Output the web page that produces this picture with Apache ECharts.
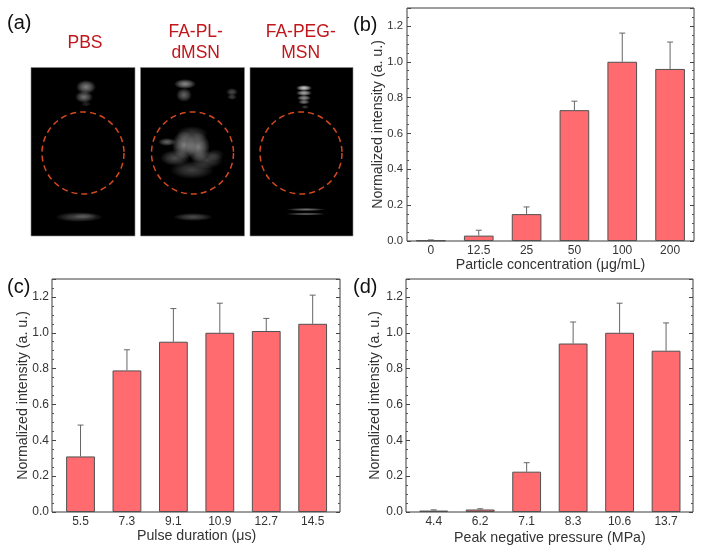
<!DOCTYPE html>
<html><head><meta charset="utf-8">
<style>html,body{margin:0;padding:0;background:#fff}#c{width:704px;height:553px}</style>
<script src="https://cdn.jsdelivr.net/npm/echarts@6/dist/echarts.min.js"></script>
</head><body><div id="c"></div>
<script>
const catsB=['0','12.5','25','50','100','200'];
const valsB=[0.003,0.03,0.15,0.73,1.0,0.96];
const topsB=[0.006,0.06,0.19,0.78,1.16,1.11];
const catsC=['5.5','7.3','9.1','10.9','12.7','14.5'];
const valsC=[0.31,0.79,0.95,1.0,1.01,1.05];
const topsC=[0.485,0.905,1.135,1.165,1.08,1.21];
const catsD=['4.4','6.2','7.1','8.3','10.6','13.7'];
const valsD=[0.008,0.014,0.225,0.94,1.0,0.9];
const topsD=[0.012,0.018,0.275,1.06,1.165,1.055];
const xNames=['Particle concentration (\u03bcg/mL)','Pulse duration (\u03bcs)','Peak negative pressure (MPa)'];
const yName='Normalized intensity (a. u.)';
const FONT='"Liberation Sans",Arial,sans-serif';
const panels=[
 {cats:catsB,vals:valsB,tops:topsB,xn:xNames[0],o:[407,8,287,233],inner:[407,287],ng:15,yg:22,yf:11.3,ym:4},
 {cats:catsC,vals:valsC,tops:topsC,xn:xNames[1],o:[52,279,288,233],inner:[57.3,278.6],ng:16,yg:22,yf:12,ym:3},
 {cats:catsD,vals:valsD,tops:topsD,xn:xNames[2],o:[406,279,287,233],inner:[410.5,278.8],ng:19,yg:24,yf:12,ym:3}
];
const grid=[],xAxis=[],yAxis=[],series=[];
panels.forEach(p=>{
  const oi=grid.length;
  grid.push({left:p.o[0],top:p.o[1],width:p.o[2],height:p.o[3],show:true,borderColor:'#3c3c3c',borderWidth:1,backgroundColor:'transparent'});
  grid.push({left:p.inner[0],top:p.o[1],width:p.inner[1],height:p.o[3]});
  const xi=xAxis.length;
  xAxis.push({type:'value',gridIndex:oi,min:0,max:1,show:false});
  xAxis.push({type:'category',gridIndex:oi+1,data:p.cats,
    axisLine:{show:false},axisTick:{show:false},
    axisLabel:{color:'#333',fontSize:12,fontFamily:FONT,margin:4},
    name:p.xn,nameLocation:'middle',nameGap:p.ng,nameTextStyle:{color:'#333',fontSize:14.2,fontFamily:FONT}});
  const yi=yAxis.length;
  const common={type:'value',gridIndex:oi,min:0,max:1.3,interval:0.2,splitLine:{show:false},
    axisLine:{show:false},
    axisTick:{show:true,inside:true,length:4,lineStyle:{color:'#444'}},
    minorTick:{show:true,splitNumber:4,length:2,lineStyle:{color:'#555'}}};
  yAxis.push(Object.assign({},common,{position:'left',
    axisLabel:{color:'#333',fontSize:p.yf,fontFamily:FONT,margin:p.ym,formatter:v=>v>1.25?'':v.toFixed(1)},
    name:yName,nameLocation:'middle',nameGap:p.yg,nameMoveOverlap:false,nameTextStyle:{color:'#333',fontSize:14.2,fontFamily:FONT}}));
  yAxis.push(Object.assign({},common,{position:'right',axisLabel:{show:false}}));
  yAxis.push({type:'value',gridIndex:oi+1,min:0,max:1.3,show:false});
  series.push({type:'bar',xAxisIndex:xi+1,yAxisIndex:yi+2,data:p.vals,barWidth:'62%',
    itemStyle:{color:'#ff6b6e',borderColor:'#505050',borderWidth:1},silent:true,animation:false});
  series.push({type:'custom',xAxisIndex:xi+1,yAxisIndex:yi+2,silent:true,animation:false,z:1,
    data:p.vals.map((v,i)=>[i,p.tops[i],v]),encode:{x:0,y:1},
    renderItem:(params,api)=>{
      const a=api.coord([api.value(0),api.value(2)]),b=api.coord([api.value(0),api.value(1)]);
      const st={stroke:'#666',lineWidth:1,fill:null};
      return {type:'group',children:[
        {type:'line',shape:{x1:a[0],y1:a[1],x2:b[0],y2:b[1]},style:st},
        {type:'line',shape:{x1:b[0]-3,y1:b[1],x2:b[0]+3,y2:b[1]},style:st}]};
    }});
});

// panel (a): ultrasound images drawn as decoration
const imgPanels=[[31,67.5,104,168.5],[140.5,67.5,104,168.5],[250,67.5,103,168.5]];
const circles=[[83,153,41],[192.5,153,41],[301,153,41]];
const blobs=[
 [86,87,10,7,.5],[84,97,9,6,.45],[86,104,5,3,.15],[79,217,24,5,.3],[85,216,12,3,.15],
 [185,84,11,5,.55],[184,95,8,7,.4],[232,92,6,4,.3],[232,97,5,3,.25],[167,142,9,4,.4],
 [184,145,12,14,.5],[198,147,12,15,.5],[175,158,15,8,.3],[207,160,16,9,.25],[192,170,22,9,.25],[192,134,16,8,.22],[215,155,9,6,.15],[193,217,20,4,.3],
 [304,88,8,3,.85],[304,93,8,3,.7],[304,98,7,3,.6],[304,102,6,2.5,.5],[305,107,4,2,.25],[306,209.5,20,1.6,.45],[306,214,20,1.6,.4]
];
const graphic=[];
imgPanels.forEach(r=>graphic.push({type:'rect',shape:{x:r[0],y:r[1],width:r[2],height:r[3]},style:{fill:'#000',stroke:'#8a8a8a',lineWidth:.6},silent:true}));
blobs.forEach(b=>graphic.push({type:'circle',x:b[0],y:b[1],scaleX:b[2],scaleY:b[3],shape:{cx:0,cy:0,r:1},silent:true,
  style:{fill:new echarts.graphic.RadialGradient(.5,.5,.5,[{offset:0,color:`rgba(255,255,255,${b[4]})`},{offset:.5,color:`rgba(255,255,255,${b[4]*.6})`},{offset:1,color:'rgba(255,255,255,0)'}])}}));
circles.forEach(c=>graphic.push({type:'circle',shape:{cx:c[0],cy:c[1],r:c[2]},silent:true,style:{fill:null,stroke:'#d4491f',lineWidth:1.5,lineDash:[6,4]}}));
const txt=(x,y,s,size,color,weight,align,lh)=>graphic.push({type:'text',x,y,silent:true,style:{text:s,fontSize:size,fontFamily:FONT,fill:color,fontWeight:weight||'normal',align:align||'left',verticalAlign:'middle',lineHeight:lh||size*1.27}});
txt(7,23,'(a)',20,'#111');
txt(353,25,'(b)',20,'#111');
txt(7,287,'(c)',20,'#111');
txt(353,287,'(d)',20,'#111');
txt(85,43,'PBS',17.5,'#c0161c','normal','center',21);
txt(195.7,42.5,'FA-PL-\ndMSN',17.5,'#c0161c','normal','center',21);
txt(300.7,42.5,'FA-PEG-\nMSN',17.5,'#c0161c','normal','center',21);

const chart=echarts.init(document.getElementById('c'),null,{renderer:'canvas'});
chart.setOption({animation:false,backgroundColor:'#fff',grid,xAxis,yAxis,series,graphic,tooltip:{show:false}});
</script></body></html>
